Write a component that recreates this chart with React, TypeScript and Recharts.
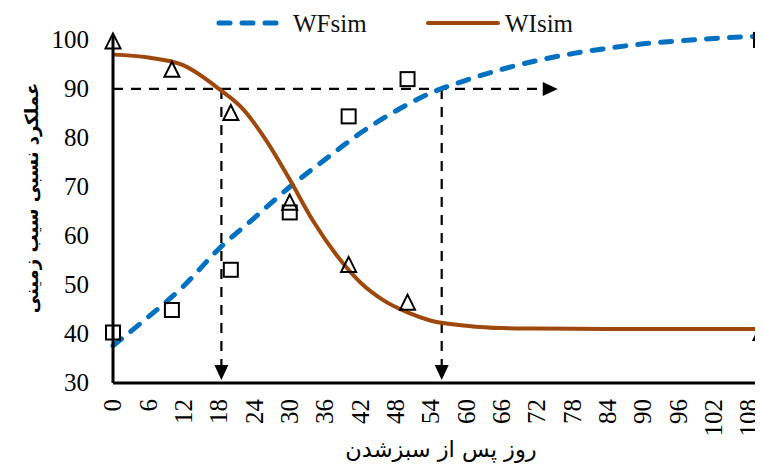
import React from "react";
import {
  ComposedChart,
  Line,
  Scatter,
  XAxis,
  YAxis,
  ReferenceLine,
  ReferenceDot,
  Legend,
} from "recharts";

// ---- data ----
const X_TICKS = [0, 6, 12, 18, 24, 30, 36, 42, 48, 54, 60, 66, 72, 78, 84, 90, 96, 102, 108];
const Y_TICKS = [30, 40, 50, 60, 70, 80, 90, 100];

const WF_SIM_DAYS = [0, 6, 12, 18, 24, 30, 36, 42, 48, 54, 60, 66, 72, 78, 84, 90, 96, 102, 110];
const WF_SIM_VALUES = [37.6, 43.5, 49.8, 57.4, 63.7, 70, 75.6, 81, 85.5, 89.2, 91.8, 94, 95.8, 97.2, 98.3, 99.2, 99.8, 100.3, 100.8];

const WI_SIM_DAYS = [0, 6, 12, 18, 22, 26, 30, 34, 38, 42, 46, 50, 54, 60, 66, 72, 84, 96, 110];
const WI_SIM_VALUES = [97, 96.4, 94.8, 90, 86, 79.5, 71.5, 63, 56, 50.5, 46.8, 44.4, 42.7, 41.7, 41.2, 41.1, 41, 41, 41];

const OBS_DAYS = [0, 10, 20, 30, 40, 50, 110];
const WF_OBS = [40.3, 44.9, 53.1, 64.8, 84.4, 92, 100];
const WI_OBS = [99.8, 94, 85.2, 66.9, 54.2, 46.5, 40.3];

const REF_Y = 90;
const REF_X_WI = 18.4;
const REF_X_WF = 55.8;
const REF_ARROW_END = 75.5;
const Y_MIN = 30;

const SERIES_NAMES = ["WFsim", "WIsim"];
const X_LABEL = "روز پس از سبزشدن";
const Y_LABEL = "عملکرد نسبی سیب زمینی";

const wfSim = WF_SIM_DAYS.map((d, i) => ({ day: d, v: WF_SIM_VALUES[i] }));
const wiSim = WI_SIM_DAYS.map((d, i) => ({ day: d, v: WI_SIM_VALUES[i] }));
const wfObs = OBS_DAYS.map((d, i) => ({ day: d, v: WF_OBS[i] }));
const wiObs = OBS_DAYS.map((d, i) => ({ day: d, v: WI_OBS[i] }));

const BLUE = "#0070C0";
const BROWN = "#9E480E";
const SERIF = "Liberation Serif";
const PERSIAN = "DejaVu Sans";

const Triangle = (props: any) => {
  const { cx, cy } = props;
  if (cx == null || cy == null) return null;
  const h = 15;
  const w = 15;
  return (
    <polygon
      points={`${cx},${cy - h / 2} ${cx - w / 2},${cy + h / 2} ${cx + w / 2},${cy + h / 2}`}
      fill="none"
      stroke="#000"
      strokeWidth={2}
    />
  );
};

const Square = (props: any) => {
  const { cx, cy } = props;
  if (cx == null || cy == null) return null;
  const s = 14;
  return <rect x={cx - s / 2} y={cy - s / 2} width={s} height={s} fill="none" stroke="#000" strokeWidth={2} />;
};

const ArrowRight = (props: any) => {
  const { cx, cy } = props;
  if (cx == null || cy == null) return null;
  return <polygon points={`${cx},${cy} ${cx - 15},${cy - 7} ${cx - 15},${cy + 7}`} fill="#000" />;
};

const ArrowDown = (props: any) => {
  const { cx, cy } = props;
  if (cx == null || cy == null) return null;
  const tip = cy - 3;
  return <polygon points={`${cx},${tip} ${cx - 7},${tip - 15} ${cx + 7},${tip - 15}`} fill="#000" />;
};

const XTick = (props: any) => {
  const { x, y, payload } = props;
  return (
    <text
      x={x}
      y={y}
      dy="0.33em"
      transform={`rotate(-90, ${x}, ${y})`}
      textAnchor="end"
      fontFamily={SERIF}
      fontSize={25}
      style={{ fontFamily: SERIF }}
      fill="#000"
    >
      {payload.value}
    </text>
  );
};

const YTick = (props: any) => {
  const { x, y, payload } = props;
  return (
    <text x={x} y={y} dy="0.33em" textAnchor="end" fontFamily={SERIF} fontSize={25} style={{ fontFamily: SERIF }} fill="#000">
      {payload.value}
    </text>
  );
};

const LegendContent = () => (
  <div style={{ position: "relative", width: 755, height: 28 }}>
    <svg width={755} height={28} style={{ position: "absolute", left: 0, top: 0 }}>
      <line x1={211} y1={15} x2={273} y2={15} stroke={BLUE} strokeWidth={5} strokeDasharray="11 12" strokeLinecap="round" />
      <text x={285} y={24} fontFamily={SERIF} fontSize={25} style={{ fontFamily: SERIF }} fill="#111">
        {SERIES_NAMES[0]}
      </text>
      <line x1={420} y1={15} x2={490} y2={15} stroke={BROWN} strokeWidth={4} strokeLinecap="round" />
      <text x={497} y={24} fontFamily={SERIF} fontSize={25} style={{ fontFamily: SERIF }} fill="#111">
        {SERIES_NAMES[1]}
      </text>
    </svg>
  </div>
);

const YLabel = () => {
  const x = 24;
  const y = 190;
  return (
    <text
      x={x}
      y={y}
      dy="0.35em"
      transform={`rotate(-90, ${x}, ${y})`}
      textAnchor="middle"
      fontFamily={PERSIAN}
      fontSize={18}
      fontWeight="bold"
      fill="#000"
    >
      {Y_LABEL}
    </text>
  );
};

const XLabel = () => {
  const x = 433;
  const y = 442;
  return (
    <text x={x} y={y} dy="0.3em" textAnchor="middle" fontFamily={PERSIAN} fontSize={22.5} fill="#000">
      {X_LABEL}
    </text>
  );
};

export default function App() {
  return (
    <div style={{ width: 755, height: 457, overflow: "hidden" }}>
      <ComposedChart width={755} height={457} margin={{ top: 0, right: 2, bottom: 0, left: 0 }}>
        <Legend
          verticalAlign="top"
          align="left"
          wrapperStyle={{ left: 0, top: 0, width: 755, height: 28 }}
          content={<LegendContent />}
        />
        <XAxis
          type="number"
          dataKey="day"
          domain={[0, 110]}
          ticks={X_TICKS}
          interval={0}
          height={82}
          tickSize={0}
          tickMargin={16}
          tickLine={false}
          axisLine={{ stroke: "#000", strokeWidth: 3 }}
          tick={<XTick />}
          label={<XLabel />}
        />
        <YAxis
          type="number"
          dataKey="v"
          domain={[30, "dataMax"]}
          ticks={Y_TICKS}
          interval={0}
          width={105}
          tickSize={0}
          tickMargin={24}
          tickLine={false}
          axisLine={{ stroke: "#000", strokeWidth: 3 }}
          tick={<YTick />}
          label={<YLabel />}
        />
        <ReferenceLine
          segment={[{ x: 0, y: REF_Y }, { x: REF_ARROW_END - 1, y: REF_Y }]}
          stroke="#000"
          strokeWidth={2.2}
          strokeDasharray="10 8"
        />
        <ReferenceLine
          segment={[{ x: REF_X_WI, y: REF_Y }, { x: REF_X_WI, y: Y_MIN + 2 }]}
          stroke="#000"
          strokeWidth={2.2}
          strokeDasharray="10 8"
        />
        <ReferenceLine
          segment={[{ x: REF_X_WF, y: REF_Y }, { x: REF_X_WF, y: Y_MIN + 2 }]}
          stroke="#000"
          strokeWidth={2.2}
          strokeDasharray="10 8"
        />
        <ReferenceDot x={REF_ARROW_END} y={REF_Y} shape={<ArrowRight />} />
        <ReferenceDot x={REF_X_WI} y={Y_MIN} shape={<ArrowDown />} />
        <ReferenceDot x={REF_X_WF} y={Y_MIN} shape={<ArrowDown />} />
        <Line
          data={wfSim}
          dataKey="v"
          name={SERIES_NAMES[0]}
          type="monotone"
          stroke={BLUE}
          strokeWidth={5}
          strokeDasharray="11 12"
          strokeLinecap="round"
          dot={false}
          activeDot={false}
          isAnimationActive={false}
        />
        <Line
          data={wiSim}
          dataKey="v"
          name={SERIES_NAMES[1]}
          type="monotone"
          stroke={BROWN}
          strokeWidth={4}
          dot={false}
          activeDot={false}
          isAnimationActive={false}
        />
        <Scatter data={wfObs} dataKey="v" name="WFobs" shape={<Square />} isAnimationActive={false} legendType="none" />
        <Scatter data={wiObs} dataKey="v" name="WIobs" shape={<Triangle />} isAnimationActive={false} legendType="none" />
      </ComposedChart>
    </div>
  );
}
